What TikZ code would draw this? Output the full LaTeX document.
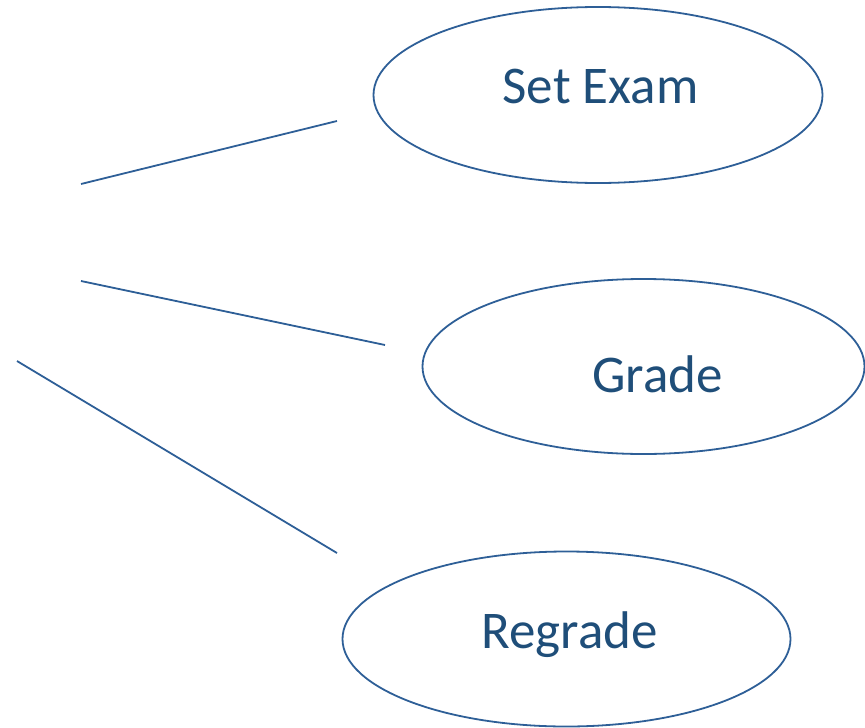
\documentclass[tikz,border=0pt]{standalone}
\usepackage{fontspec}
\setmainfont{Carlito}
\usetikzlibrary{shapes.geometric}
\definecolor{linecol}{HTML}{2E5F97}
\definecolor{textcol}{HTML}{1F4E79}
\tikzset{
  usecase/.style={draw=linecol, line width=1.8pt, ellipse, inner sep=0pt},
  uctext/.style={text=textcol, font=\fontsize{53}{60}\selectfont, anchor=base, inner sep=0pt},
  assoc/.style={draw=linecol, line width=1.8pt},
}
\begin{document}
\begin{tikzpicture}[x=1pt,y=-1pt]
\useasboundingbox (0,0) rectangle (865,728);
\node[usecase, minimum width=449pt, minimum height=176pt] (setexam) at (598,95) {};
\node[usecase, minimum width=442pt, minimum height=175pt] (grade) at (643.5,366.5) {};
\node[usecase, minimum width=448pt, minimum height=175pt] (regrade) at (566.5,639) {};
\node[uctext] (tsetexam) at (600.5,103) {Set Exam};
\node[uctext] (tgrade) at (657.5,392) {Grade};
\node[uctext] (tregrade) at (569.5,648) {Regrade};
\coordinate (a1) at (81,184);
\coordinate (b1) at (337,121);
\coordinate (a2) at (81,281);
\coordinate (b2) at (385,345);
\coordinate (a3) at (17,361);
\coordinate (b3) at (337,553);
\draw[assoc] (a1) -- (b1);
\draw[assoc] (a2) -- (b2);
\draw[assoc] (a3) -- (b3);
\end{tikzpicture}
\end{document}
